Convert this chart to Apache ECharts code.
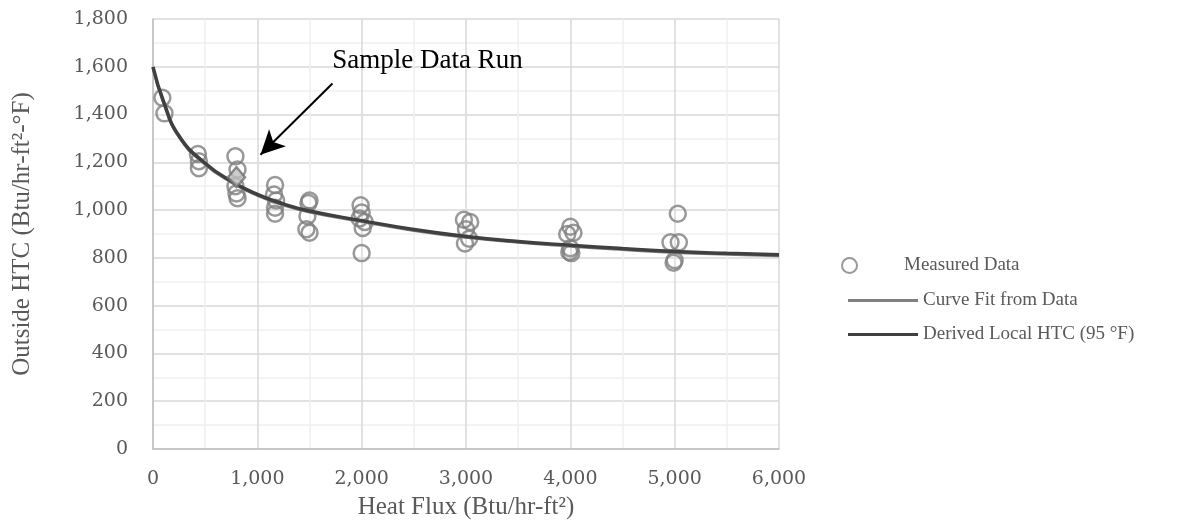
<!DOCTYPE html>
<html>
<head>
<meta charset="utf-8">
<script src="https://cdn.jsdelivr.net/npm/echarts@6/dist/echarts.min.js"></script>
<style>
  html, body { margin: 0; padding: 0; background: #fff; }
  #chart { width: 1198px; height: 531px; }
</style>
</head>
<body>
<div id="chart"></div>
<script>
// measured points
const measuredFlux = [90, 110, 430, 440, 440, 790, 810, 790, 800, 810,
  1170, 1160, 1180, 1170, 1170, 1500, 1490, 1480, 1470, 1500,
  1990, 2000, 1980, 2030, 2010, 2000, 2980, 3040, 3000, 3030, 2990,
  4000, 4030, 3970, 4000, 3990, 4010, 4960, 5040, 5030, 5000, 4990]
const measuredHtc = [1470, 1405, 1235, 1205, 1175, 1225, 1170, 1100, 1070, 1050,
  1105, 1065, 1040, 1010, 985, 1040, 1030, 975, 920, 905,
  1020, 990, 965, 950, 925, 820, 960, 950, 920, 880, 860,
  930, 905, 900, 840, 825, 820, 865, 865, 985, 790, 780]

// sample data run (diamond)
const sampleFlux = [800]
const sampleHtc = [1138]

// curves, read at these flux values
const curveFlux = [0, 100, 250, 500, 750, 1000, 1250, 1500, 2000, 2500, 3000, 3500, 4000, 4500, 5000, 5500, 6000]
const fitHtc = [1596, 1452, 1306, 1192, 1117, 1062, 1022, 992, 952, 915, 886, 865, 849, 835, 823, 815, 809]
const derivedHtc = [1600, 1456, 1310, 1196, 1121, 1066, 1026, 996, 956, 919, 890, 869, 853, 839, 827, 819, 813]

const xTicks = [0, 1000, 2000, 3000, 4000, 5000, 6000]
const yTicks = [0, 200, 400, 600, 800, 1000, 1200, 1400, 1600, 1800]

// annotation arrow (data coords)
const arrowFrom = [1720, 1530]
const arrowTo = [1030, 1232]
const noteAt = [2630, 1625]

const chart = echarts.init(document.getElementById('chart'))
const grey = '#595959'
const serif = '"Liberation Serif", "Times New Roman", serif'
const tickFont = '"DejaVu Serif", serif'

chart.setOption({
  animation: false,
  grid: { left: 153, top: 19, right: 419, bottom: 82 },
  legend: [
    {
      data: ['Measured Data'],
      left: 836, top: 251,
      itemWidth: 15, itemHeight: 15,
      textStyle: { fontFamily: serif, fontSize: 19, color: grey, padding: [0, 0, 0, 42] }
    },
    {
      data: [
        { name: 'Curve Fit from Data', icon: 'rect' },
        { name: 'Derived Local HTC (95 °F)', icon: 'rect' }
      ],
      orient: 'vertical',
      left: 843, top: 285,
      itemWidth: 70, itemHeight: 3, itemGap: 13,
      textStyle: { fontFamily: serif, fontSize: 19, color: grey, lineHeight: 21 }
    }
  ],
  xAxis: {
    type: 'value',
    min: xTicks[0], max: xTicks[xTicks.length - 1], interval: 1000,
    name: 'Heat Flux (Btu/hr-ft²)',
    nameLocation: 'middle', nameGap: 46,
    nameTextStyle: { fontFamily: serif, fontSize: 25, color: grey },
    axisLine: { lineStyle: { color: '#bfbfbf', width: 1.5 } },
    axisTick: { show: false },
    axisLabel: {
      margin: 21, color: grey, fontFamily: tickFont, fontSize: 19,
      formatter: v => v.toLocaleString('en-US')
    },
    splitLine: { show: true, lineStyle: { color: '#d9d9d9', width: 1.5 } },
    minorTick: { show: false, splitNumber: 2 },
    minorSplitLine: { show: true, lineStyle: { color: '#efefef', width: 1.5 } }
  },
  yAxis: {
    type: 'value',
    min: yTicks[0], max: yTicks[yTicks.length - 1], interval: 200,
    name: 'Outside HTC (Btu/hr-ft²-°F)',
    nameLocation: 'middle', nameGap: 118, nameRotate: 90,
    nameTextStyle: { fontFamily: serif, fontSize: 25, color: grey },
    axisLine: { show: true, lineStyle: { color: '#bfbfbf', width: 1.5 } },
    axisTick: { show: false },
    axisLabel: {
      margin: 25, color: grey, fontFamily: tickFont, fontSize: 19,
      formatter: v => v.toLocaleString('en-US')
    },
    splitLine: { show: true, lineStyle: { color: '#d9d9d9', width: 1.5 } },
    minorTick: { show: false, splitNumber: 2 },
    minorSplitLine: { show: true, lineStyle: { color: '#efefef', width: 1.5 } }
  },
  series: [
    {
      name: 'Measured Data',
      type: 'scatter',
      symbol: 'circle',
      symbolSize: 16,
      itemStyle: { color: 'rgba(0,0,0,0)', borderColor: '#7f7f7f', borderWidth: 2.5 },
      data: measuredFlux.map((x, i) => [x, measuredHtc[i]]),
      z: 3
    },
    {
      name: 'Sample Data Run',
      type: 'scatter',
      symbol: 'diamond',
      symbolSize: [17, 20],
      itemStyle: { color: '#bfbfbf', borderColor: '#707070', borderWidth: 2.5 },
      data: sampleFlux.map((x, i) => [x, sampleHtc[i]]),
      z: 6
    },
    {
      name: 'Curve Fit from Data',
      type: 'line',
      smooth: true,
      symbol: 'none',
      lineStyle: { color: '#808080', width: 3 },
      itemStyle: { color: '#808080' },
      data: curveFlux.map((x, i) => [x, fitHtc[i]]),
      z: 4
    },
    {
      name: 'Derived Local HTC (95 °F)',
      type: 'line',
      smooth: true,
      symbol: 'none',
      lineStyle: { color: '#404040', width: 3.5 },
      itemStyle: { color: '#404040' },
      data: curveFlux.map((x, i) => [x, derivedHtc[i]]),
      z: 5,
      markLine: {
        silent: true,
        symbol: ['none', 'arrow'],
        symbolSize: [18, 24],
        lineStyle: { color: '#000', width: 2, type: 'solid' },
        label: { show: false },
        data: [[{ coord: arrowFrom }, { coord: arrowTo }]]
      }
    }
  ]
})

const p = chart.convertToPixel({ gridIndex: 0 }, noteAt)
chart.setOption({
  graphic: [{
    type: 'text',
    x: p[0], y: p[1],
    style: {
      text: 'Sample Data Run',
      fontFamily: serif, fontSize: 27, fill: '#000',
      align: 'center', verticalAlign: 'middle'
    }
  }]
})
</script>
</body>
</html>
